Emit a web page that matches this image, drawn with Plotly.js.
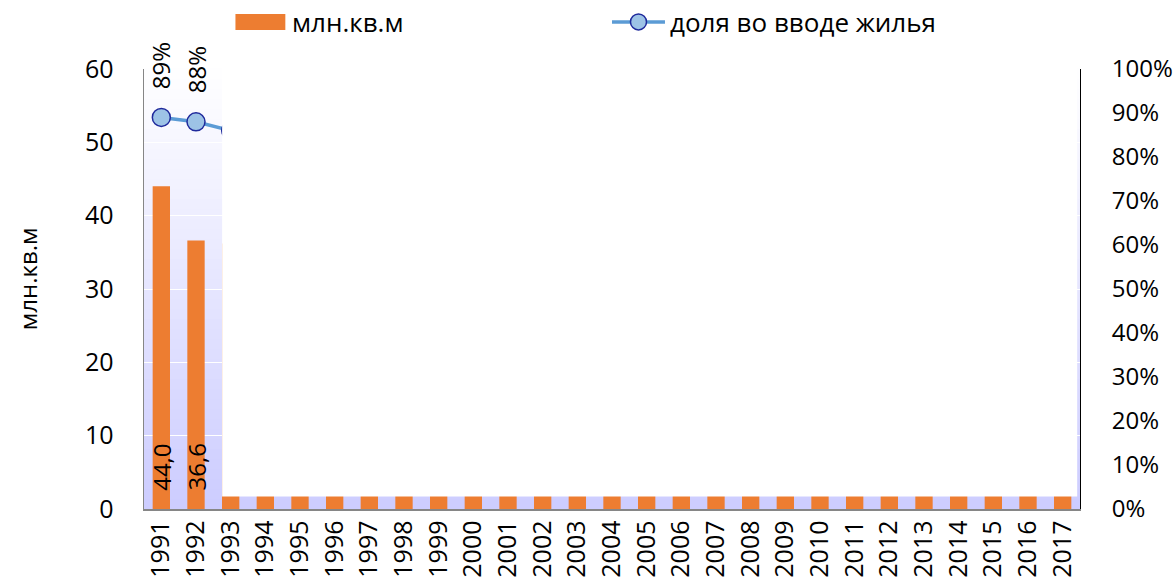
<!DOCTYPE html>
<html>
<head>
<meta charset="utf-8">
<script src="https://cdn.plot.ly/plotly-3.0.1.min.js"></script>
<style>html,body{margin:0;padding:0;background:#fff;}#chart{width:1176px;height:585px;}</style>
</head>
<body>
<div id="chart"></div>
<script>
// ---- data ----
const years = ["1991","1992","1993","1994","1995","1996","1997","1998","1999","2000","2001","2002","2003","2004","2005","2006","2007","2008","2009","2010","2011","2012","2013","2014","2015","2016","2017"];
// млн.кв.м (values after 1992 are hidden in the reference; estimated)
const area = [44.0, 36.6, 36.2, 32.1, 35.0, 27.7, 26.2, 23.7, 23.8, 22.0, 23.8, 25.0, 26.2, 29.0, 29.9, 33.1, 41.2, 39.7, 31.4, 32.9, 35.8, 37.7, 40.2, 49.0, 50.1, 48.4, 47.1];
// доля во вводе жилья
const share = [0.89, 0.88, 0.86, 0.82, 0.85, 0.81, 0.80, 0.77, 0.74, 0.73, 0.75, 0.74, 0.72, 0.71, 0.69, 0.65, 0.67, 0.62, 0.52, 0.56, 0.57, 0.57, 0.57, 0.58, 0.59, 0.60, 0.60];
const areaName = "млн.кв.м";
const shareName = "доля во вводе жилья";

// ---- style ----
const FONT = "'Open Sans', 'Noto Sans', sans-serif";
const ORANGE = "#ed7d31";
const BLUE = "#5b9bd5";
const MFILL = "#9dc3e6";
const MLINE = "#1f2a9c";
const OVERLAY_FROM = 1.75; // category position where the white overlay starts

const bars = {
  type: "bar", x: years, y: area, name: areaName, yaxis: "y",
  width: 0.5, marker: {color: ORANGE}, hoverinfo: "skip"
};
const line = {
  type: "scatter", mode: "lines+markers", x: years, y: share, name: shareName, yaxis: "y2",
  line: {color: BLUE, width: 3.5},
  marker: {size: 18, color: MFILL, line: {color: MLINE, width: 1.5}},
  cliponaxis: false, hoverinfo: "skip"
};

const annotations = [];
years.forEach((yr, i) => {
  if (i + 0.25 > OVERLAY_FROM) return; // covered by overlay
  annotations.push({
    x: i, y: 0, xref: "x", yref: "y", text: area[i].toFixed(1).replace(".", ","),
    textangle: -90, showarrow: false, yanchor: "bottom", yshift: 16,
    font: {family: FONT, size: 24, color: "#000"}
  });
  annotations.push({
    x: i, y: share[i], xref: "x", yref: "y2", text: Math.round(share[i] * 100) + "%",
    textangle: -90, showarrow: false, yanchor: "bottom", yshift: 26,
    font: {family: FONT, size: 24, color: "#000"}
  });
});
// y axis title
annotations.push({
  xref: "paper", yref: "paper", x: -0.1245, y: 0.523, text: areaName, textangle: -90,
  showarrow: false, xanchor: "center", yanchor: "middle",
  font: {family: FONT, size: 24, color: "#000"}
});
// custom legend texts
annotations.push({
  xref: "paper", yref: "paper", x: 0.1563, y: 1.107, text: areaName, showarrow: false,
  xanchor: "left", yanchor: "middle", font: {family: FONT, size: 26, color: "#000"}
});
annotations.push({
  xref: "paper", yref: "paper", x: 0.5598, y: 1.107, text: shareName, showarrow: false,
  xanchor: "left", yanchor: "middle", font: {family: FONT, size: 26, color: "#000"}
});

const shapes = [];
// gradient plot background
const N = 44;
for (let k = 0; k < N; k++) {
  const t = 1 - (k + 0.5) / N; // 1 at bottom
  const c = Math.round(255 - 51 * t);
  shapes.push({
    type: "rect", layer: "below", xref: "x domain", yref: "y domain",
    x0: 0, x1: 1, y0: k / N, y1: (k + 1) / N + 0.002,
    fillcolor: `rgb(${c},${c},255)`, line: {width: 0}
  });
}
// white overlay covering the chart
shapes.push({
  type: "rect", layer: "above", xref: "paper", yref: "paper",
  x0: 0.08346, x1: 0.99701, y0: 0.0284, y1: 1.0705,
  fillcolor: "#ffffff", line: {width: 0}
});
// legend symbols
shapes.push({
  type: "rect", xref: "paper", yref: "paper", x0: 0.0977, x1: 0.151, y0: 1.0886, y1: 1.125,
  fillcolor: ORANGE, line: {width: 0}
});
shapes.push({
  type: "line", xref: "paper", yref: "paper", x0: 0.5, x1: 0.5566, y0: 1.107, y1: 1.107,
  line: {color: BLUE, width: 3.5}
});
shapes.push({
  type: "circle", xref: "paper", yref: "paper", xsizemode: "pixel", ysizemode: "pixel",
  xanchor: 0.5283, yanchor: 1.107, x0: -8, x1: 8, y0: -8, y1: 8,
  fillcolor: MFILL, line: {color: MLINE, width: 1.5}
});

const tickFont = {family: FONT, size: 25, color: "#000"};
const layout = {
  width: 1176, height: 585,
  margin: {l: 143.5, r: 95.5, t: 69, b: 76, pad: 0},
  paper_bgcolor: "#fff", plot_bgcolor: "rgba(0,0,0,0)",
  showlegend: false,
  font: {family: FONT, color: "#000"},
  xaxis: {
    type: "category", range: [-0.5, 26.5], tickangle: -90, tickfont: tickFont,
    showline: true, linecolor: "#868686", linewidth: 1.5, showgrid: false, ticks: "",
    fixedrange: true
  },
  yaxis: {
    range: [0, 60], dtick: 10, tickfont: tickFont, showline: true, linecolor: "#868686",
    linewidth: 1.5, gridcolor: "#ffffff", gridwidth: 1, zeroline: false, ticks: "",
    ticklabelstandoff: 24, fixedrange: true
  },
  yaxis2: {
    overlaying: "y", side: "right", range: [0, 1], dtick: 0.1, tickformat: ".0%",
    tickfont: {family: FONT, size: 24, color: "#000"}, showline: true, linecolor: "#000", linewidth: 1,
    showgrid: false, zeroline: false, ticks: "", ticklabelstandoff: 26, fixedrange: true
  },
  bargap: 0.5,
  shapes: shapes,
  annotations: annotations
};

Plotly.newPlot("chart", [bars, line], layout, {displayModeBar: false, staticPlot: true});
</script>
</body>
</html>
